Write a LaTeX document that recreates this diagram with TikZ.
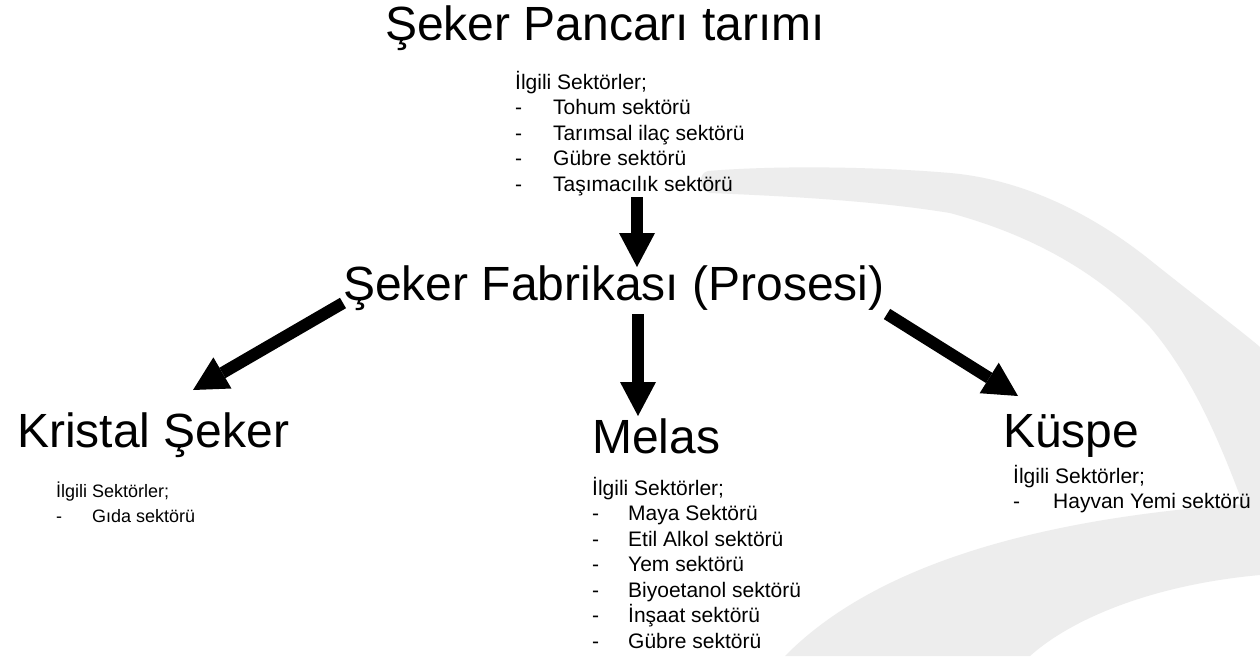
\documentclass[tikz,border=0pt]{standalone}
\usepackage{fontspec}
\setmainfont{Liberation Sans}
\usetikzlibrary{arrows.meta}
\definecolor{swoosh}{RGB}{237,237,237}
\tikzset{
  big/.style={anchor=base west, inner sep=0pt, font=\fontsize{48}{58}\selectfont},
  listbox/.style={anchor=base west, inner sep=0pt},
  blockarrow/.style={line width=12pt, -{Triangle[length=34pt,width=36pt,line width=0pt]}},
  band/.style={fill=swoosh, draw=none},
}
\newcommand\itm[2][37pt]{\hbox{\makebox[#1][l]{-}#2}}
\newcommand\lst[3]{\vtop{\fontsize{#1}{#2}\selectfont #3}}
\begin{document}
\begin{tikzpicture}[x=1pt,y=-1pt]
\fill[white] (0,0) rectangle (1260,656);
\useasboundingbox (0,0) rectangle (1260,656);
% background swooshes
\path[band] (708,171) .. controls (780,165) and (880,167) .. (950,173)
  .. controls (1030,180) and (1100,220) .. (1150,260)
  .. controls (1200,300) and (1240,330) .. (1260,347)
  -- (1260,552)
  .. controls (1225,450) and (1195,380) .. (1150,327)
  .. controls (1110,285) and (1050,240) .. (950,213)
  .. controls (870,200) and (780,196) .. (710,193)
  .. controls (698,190) and (698,173) .. (708,171) -- cycle;
\path[band] (785,656) .. controls (850,590) and (980,520) .. (1260,503)
  -- (1260,575) .. controls (1150,585) and (1070,620) .. (1030,656) -- cycle;
% titles
\node[big] (title) at (385,40) {Şeker Pancarı tarımı};
\node[big] (fab) at (343,300) {Şeker Fabrikası (Prosesi)};
\node[big] (kristal) at (17,447) {Kristal Şeker};
\node[big] (melas) at (592,453) {Melas};
\node[big] (kuspe) at (1003,447) {Küspe};
% lists
\node[listbox] (toplist) at (515,89) {\lst{21}{25.5}{%
  \hbox{İlgili Sektörler;}
  \itm[38pt]{Tohum sektörü}
  \itm[38pt]{Tarımsal ilaç sektörü}
  \itm[38pt]{Gübre sektörü}
  \itm[38pt]{Taşımacılık sektörü}}};
\node[listbox] (krlist) at (56,497) {\lst{18}{25}{%
  \hbox{İlgili Sektörler;}
  \itm[36pt]{Gıda sektörü}}};
\node[listbox] (melist) at (592,495) {\lst{21}{25.5}{%
  \hbox{İlgili Sektörler;}
  \itm[36pt]{Maya Sektörü}
  \itm[36pt]{Etil Alkol sektörü}
  \itm[36pt]{Yem sektörü}
  \itm[36pt]{Biyoetanol sektörü}
  \itm[36pt]{İnşaat sektörü}
  \itm[36pt]{Gübre sektörü}}};
\node[listbox] (kulist) at (1013,483) {\lst{21}{25}{%
  \hbox{İlgili Sektörler;}
  \itm[40pt]{Hayvan Yemi sektörü}}};
% arrows
\coordinate (a1s) at (637,197); \coordinate (a1e) at (637,267);
\coordinate (a2s) at (638,314); \coordinate (a2e) at (638,416);
\coordinate (a3s) at (343,303); \coordinate (a3e) at (193,390);
\coordinate (a4s) at (887,314); \coordinate (a4e) at (1018,396);
\draw[blockarrow] (a1s) -- (a1e);
\draw[blockarrow] (a2s) -- (a2e);
\draw[blockarrow] (a3s) -- (a3e);
\draw[blockarrow] (a4s) -- (a4e);
\end{tikzpicture}
\end{document}
